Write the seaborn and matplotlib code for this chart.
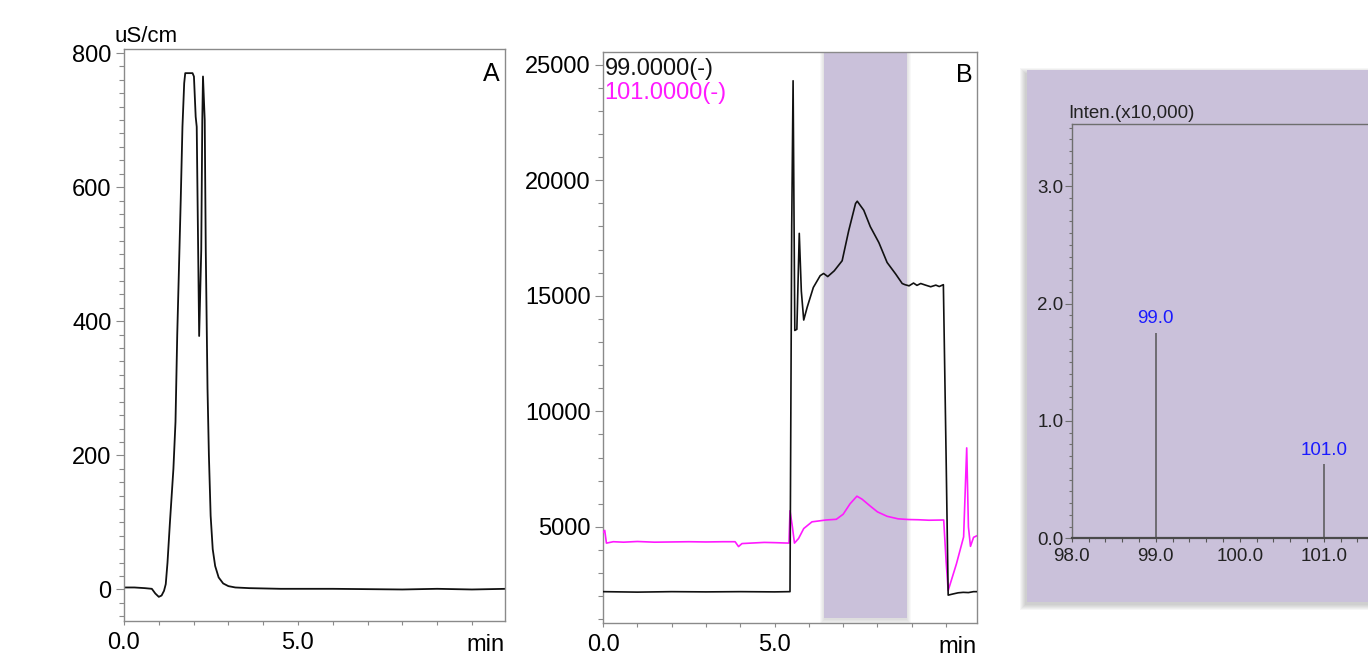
"""
Chromatogramme (conductivité), SIM m/z 99/101 et spectre de masse de la fenêtre grisée
"""
import pandas as pd
import matplotlib
matplotlib.use("Agg")
import matplotlib.pyplot as plt
import seaborn as sns
from matplotlib.patches import Rectangle
from matplotlib.ticker import MultipleLocator, FormatStrFormatter, FixedLocator

# Panel A : conductivité (min, uS/cm)
cond_time = [0.0, 0.3, 0.6, 0.8, 0.9, 1.0, 1.08, 1.15, 1.2, 1.25, 1.32, 1.42, 1.48,
             1.53, 1.58, 1.63, 1.68, 1.73, 1.76, 1.97, 2.01, 2.06, 2.09, 2.16, 2.22,
             2.25, 2.27, 2.32, 2.35, 2.4, 2.44, 2.49, 2.55, 2.62, 2.72, 2.85, 3.0,
             3.2, 3.6, 4.5, 6.0, 8.0, 9.0, 10.0, 11.0]
cond_value = [3, 3, 2, 1, -6, -11, -9, -2, 8, 40, 100, 180, 250,
              380, 480, 580, 690, 755, 770, 770, 765, 705, 690, 378, 506,
              700, 765, 700, 506, 300, 200, 110, 60, 35, 18, 9, 5,
              3, 2, 1, 1, 0, 1, 0, 1]

# Panel B : traces SIM
sim_time_99 = [0.0, 1.0, 2.0, 3.0, 4.0, 5.0, 5.45, 5.5, 5.54, 5.59, 5.65, 5.72, 5.78,
               5.85, 5.95, 6.13, 6.33, 6.43, 6.55, 6.74, 6.97, 7.16, 7.36, 7.41, 7.6,
               7.79, 8.04, 8.28, 8.53, 8.72, 8.8, 8.92, 9.05, 9.15, 9.26, 9.4, 9.55,
               9.7, 9.8, 9.92, 10.0, 10.06, 10.2, 10.35, 10.5, 10.65, 10.8, 10.9]
sim_int_99 = [2200, 2180, 2200, 2190, 2200, 2190, 2200, 18000, 24300, 13500, 13550, 17700, 15200,
              13950, 14500, 15360, 15870, 15965, 15830, 16080, 16515, 17810, 18990, 19090, 18700,
              17990, 17300, 16440, 15940, 15530, 15480, 15430, 15550, 15450, 15530, 15460, 15390,
              15460, 15400, 15480, 8000, 2050, 2100, 2150, 2170, 2160, 2200, 2200]
sim_time_101 = [0.0, 0.05, 0.1, 0.3, 0.6, 1.0, 1.5, 2.0, 2.5, 3.0, 3.5, 3.85, 3.95,
                4.05, 4.3, 4.7, 5.0, 5.42, 5.45, 5.52, 5.58, 5.7, 5.85, 6.09, 6.5,
                6.8, 7.0, 7.2, 7.4, 7.55, 7.79, 8.0, 8.28, 8.6, 8.9, 9.2, 9.5,
                9.93, 10.0, 10.06, 10.3, 10.51, 10.6, 10.65, 10.71, 10.8, 10.9]
sim_int_101 = [4750, 4850, 4300, 4360, 4340, 4370, 4340, 4350, 4360, 4350, 4360, 4360, 4150,
               4280, 4300, 4330, 4320, 4300, 5700, 5000, 4300, 4500, 4930, 5220, 5300,
               5330, 5550, 6000, 6330, 6200, 5900, 5650, 5460, 5350, 5320, 5310, 5290,
               5300, 3500, 2250, 3400, 4570, 8420, 5000, 4160, 4550, 4620]
sim_labels = ["99.0000(-)", "101.0000(-)"]
shade_window = (6.45, 8.86)

# Panel C : spectre de masse (Inten. x10,000)
ms_mz = [99.0, 101.0]
ms_inten = [1.75, 0.63]
ms_labels = ["99.0", "101.0"]
ms_ticks = [98.0, 99.0, 100.0, 101.0]

GREY = "#8a8a8a"
PURPLE = "#cac1da"
MAGENTA = "#ff1aff"
W, H = 1368, 655

sns.set_style("ticks")
plt.rcParams["font.family"] = ["Liberation Sans", "DejaVu Sans"]
plt.rcParams["text.color"] = "black"
plt.rcParams["xtick.labelcolor"] = "black"
plt.rcParams["ytick.labelcolor"] = "black"

fig = plt.figure(figsize=(W / 100, H / 100), dpi=100)


def px_axes(left, top, right, bottom):
    return fig.add_axes([left / W, 1 - bottom / H, (right - left) / W, (bottom - top) / H])


def style_chrom(ax):
    for side in ["left", "right", "top", "bottom"]:
        ax.spines[side].set_visible(True)
        ax.spines[side].set_color(GREY)
        ax.spines[side].set_linewidth(1.0)
    ax.tick_params(axis="y", which="major", direction="out", length=6, width=0.8,
                   color=GREY, pad=3, labelsize=17)
    ax.tick_params(axis="y", which="minor", direction="out", length=3.5, width=0.8, color=GREY)
    ax.tick_params(axis="x", which="both", direction="out", length=3, width=0.8,
                   color=GREY, pad=5, labelsize=17)
    ax.set_xlabel("")
    ax.set_ylabel("")
    ax.xaxis.set_major_locator(FixedLocator([0, 5, 10]))
    ax.set_xticklabels(["0.0", "5.0", ""])
    ax.xaxis.set_minor_locator(MultipleLocator(1))
    ax.text(1.0, -0.022, "min", transform=ax.transAxes, ha="right", va="top", fontsize=17)


# 1. Conductivité
ax_a = px_axes(124, 49, 505, 621)
df_a = pd.DataFrame({"t": cond_time, "v": cond_value})
sns.lineplot(data=df_a, x="t", y="v", ax=ax_a, color="#111111", linewidth=1.3,
             sort=False, estimator=None)
ax_a.set_xlim(0, 10.95)
ax_a.set_ylim(-47, 806)
ax_a.yaxis.set_major_locator(FixedLocator([0, 200, 400, 600, 800]))
ax_a.yaxis.set_minor_locator(MultipleLocator(20))
style_chrom(ax_a)
ax_a.text(-0.024, 1.012, "uS/cm", transform=ax_a.transAxes, ha="left", va="baseline", fontsize=16)
ax_a.text(0.987, 0.978, "A", transform=ax_a.transAxes, ha="right", va="top", fontsize=18)

# 2. SIM
ax_b = px_axes(603, 52, 977, 623)
ymin_b, ymax_b = 844, 25545
x0, x1 = shade_window
for k in range(5):
    ax_b.add_patch(Rectangle((x0 - 0.03 * k, 1050 - 60 - 45 * k), (x1 - x0) + 0.06 * k,
                             ymax_b, facecolor="#7a7a7a", alpha=0.05, linewidth=0, zorder=0))
ax_b.add_patch(Rectangle((x0, 1050), x1 - x0, ymax_b, facecolor=PURPLE,
                         linewidth=0, zorder=0.5))
df_99 = pd.DataFrame({"t": sim_time_99, "v": sim_int_99})
df_101 = pd.DataFrame({"t": sim_time_101, "v": sim_int_101})
sns.lineplot(data=df_101, x="t", y="v", ax=ax_b, color=MAGENTA, linewidth=1.2,
             sort=False, estimator=None, zorder=3)
sns.lineplot(data=df_99, x="t", y="v", ax=ax_b, color="#111111", linewidth=1.2,
             sort=False, estimator=None, zorder=4)
ax_b.set_xlim(0, 10.9)
ax_b.set_ylim(ymin_b, ymax_b)
ax_b.yaxis.set_major_locator(FixedLocator([5000, 10000, 15000, 20000, 25000]))
ax_b.yaxis.set_minor_locator(MultipleLocator(1000))
style_chrom(ax_b)
ax_b.text(0.004, 0.99, sim_labels[0], transform=ax_b.transAxes, ha="left", va="top",
          fontsize=17, color="#111111")
ax_b.text(0.004, 0.947, sim_labels[1], transform=ax_b.transAxes, ha="left", va="top",
          fontsize=17, color=MAGENTA)
ax_b.text(0.987, 0.981, "B", transform=ax_b.transAxes, ha="right", va="top", fontsize=18)

# 3. Spectre de masse sur fond violet (avec ombre)
px0, py_top, py_bot = 1027, 70, 602
for k in range(6):
    fig.patches.append(Rectangle(((px0 - 2 - k) / W, 1 - (py_bot + 3 + k) / H),
                                 (W + 40 - px0 + 2 * k) / W, (py_bot - py_top + 2 * k) / H,
                                 transform=fig.transFigure, facecolor="#6a6a6a",
                                 alpha=0.06, linewidth=0, zorder=-3))
fig.patches.append(Rectangle((px0 / W, 1 - py_bot / H), (W + 40 - px0) / W,
                             (py_bot - py_top) / H, transform=fig.transFigure,
                             facecolor=PURPLE, linewidth=0, zorder=-2))

ax_c = px_axes(1071.7, 124, 1407.7, 538.3)
ax_c.patch.set_alpha(0)
ax_c.vlines(ms_mz, 0, ms_inten, color="#555555", linewidth=1.1)
for mz, inten, lab in zip(ms_mz, ms_inten, ms_labels):
    ax_c.annotate(lab, (mz, inten), xytext=(0, 4), textcoords="offset points",
                  ha="center", va="bottom", fontsize=13.5, color="#1a1aff")
ax_c.set_xlim(98, 102)
ax_c.set_ylim(0, 3.53)
for side in ["left", "top", "right"]:
    ax_c.spines[side].set_visible(True)
    ax_c.spines[side].set_color("#6e6e6e")
    ax_c.spines[side].set_linewidth(1.0)
ax_c.spines["bottom"].set_color("#4a4a4a")
ax_c.spines["bottom"].set_linewidth(1.6)
ax_c.xaxis.set_major_locator(FixedLocator(ms_ticks))
ax_c.xaxis.set_minor_locator(MultipleLocator(0.2))
ax_c.xaxis.set_major_formatter(FormatStrFormatter("%.1f"))
ax_c.yaxis.set_major_locator(MultipleLocator(1.0))
ax_c.yaxis.set_minor_locator(MultipleLocator(0.1))
ax_c.yaxis.set_major_formatter(FormatStrFormatter("%.1f"))
ax_c.tick_params(axis="y", which="major", direction="out", length=5, width=0.8,
                 color="#6e6e6e", pad=1, labelsize=13.5, labelcolor="#222222")
ax_c.tick_params(axis="y", which="minor", direction="out", length=2.5, width=0.8, color="#6e6e6e")
ax_c.tick_params(axis="x", which="both", direction="out", length=3, width=0.8,
                 color="#555555", pad=4, labelsize=13.5, labelcolor="#222222")
ax_c.text(-0.01, 1.006, "Inten.(x10,000)", transform=ax_c.transAxes, ha="left",
          va="bottom", fontsize=13.5, color="#222222")

fig.savefig("out.png", dpi=100)
plt.close(fig)
